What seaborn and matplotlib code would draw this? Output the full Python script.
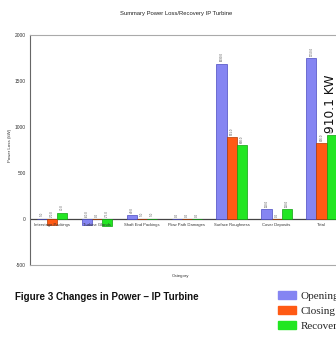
import matplotlib
matplotlib.use("Agg")
import matplotlib.pyplot as plt
import matplotlib.patches as mpatches
import seaborn as sns
import pandas as pd

categories = ["Interstage Packings", "Turbine Glands", "Shaft End Packings",
              "Flow Path Damages", "Surface Roughness", "Cover Deposits", "Total"]
opening = [5, -60, 40, 0, 1690, 110, 1750]
closing = [-70, 0, 5, 0, 891, 0, 826]
recovery = [70, -75, 5, 0, 800, 110, 910.1]
series = ["Opening", "Closing", "Recovery"]
colors = ["#8585f2", "#ff5a14", "#22e622"]
edges = ["#4a4ac0", "#b03a00", "#10a010"]
yticks = [-500, 0, 500, 1000, 1500, 2000]

rows = []
for c, o, cl, r in zip(categories, opening, closing, recovery):
    rows += [(c, "Opening", o), (c, "Closing", cl), (c, "Recovery", r)]
df = pd.DataFrame(rows, columns=["Category", "Series", "Value"])

sns.set_style("white")
plt.rcParams["font.family"] = ["Liberation Sans", "DejaVu Sans"]

fig = plt.figure(figsize=(3.36, 3.45), dpi=100)
ax = fig.add_axes([30 / 336, 0.2319, 314 / 336, 0.6667])

sns.barplot(data=df, x="Category", y="Value", hue="Series", order=categories,
            hue_order=series, palette=colors, width=0.68, gap=0,
            ax=ax, legend=False, errorbar=None, saturation=1)

for cont, ec in zip(ax.containers, edges):
    for bar in cont:
        bar.set_edgecolor(ec)
        bar.set_linewidth(0.5)
        h = bar.get_height()
        x = bar.get_x() + bar.get_width() / 2
        top = max(h, 0)
        ax.text(x, top + 25, f"{h:.1f}", rotation=90, fontsize=2.2,
                ha="center", va="bottom", color="#555555")

ax.set_xlim(-0.49, 6.5)
ax.set_ylim(-500, 2000)
ax.set_yticks(yticks)
ax.set_yticklabels([str(v) for v in yticks], fontsize=3.5, color="#333333")
ax.tick_params(axis="y", length=2, width=0.5, pad=1)
ax.set_xticks([])
ax.axhline(0, color="#444444", lw=0.9, zorder=0.5)
for s in ax.spines.values():
    s.set_color("#aaaaaa")
    s.set_linewidth(0.8)
ax.spines["left"].set_color("#666666")

for i, c in enumerate(categories):
    ax.text(i, -45, c, fontsize=3.0, ha="center", va="top", color="#333333")

ax.set_xlabel("")
ax.set_ylabel("")
fig.text(180 / 336, 1 - 276 / 345, "Category", fontsize=3.2, ha="center",
         va="center", color="#333333")
fig.text(10 / 336, 1 - 145 / 345, "Power Loss (kW)", fontsize=3.2, rotation=90,
         ha="center", va="center", color="#333333")
fig.text(176 / 336, 1 - 13 / 345, "Summary Power Loss/Recovery IP Turbine",
         fontsize=4.2, ha="center", va="center", color="#222222")

fig.text(330 / 336, 1 - 104 / 345, "910.1 KW", rotation=90, fontsize=8.8,
         ha="center", va="center", color="#111111",
         family=["DejaVu Sans"])

fig.text(15 / 336, 1 - 297 / 345, "Figure 3 Changes in Power \u2013 IP Turbine",
         fontsize=7, ha="left", va="center", color="#111111",
         weight="semibold", family=["Liberation Sans"])

handles = [mpatches.Patch(facecolor=c, edgecolor=c, label=s)
           for c, s in zip(colors, series)]
leg = fig.legend(handles=handles, loc="upper left",
                 bbox_to_anchor=(276 / 336, 1 - 289 / 345),
                 frameon=False,
                 prop={"family": ["Liberation Serif"], "size": 8},
                 handlelength=1.6, handleheight=0.75, handletextpad=0.4,
                 labelspacing=0.45, borderaxespad=0, borderpad=0.2)

fig.savefig("out.png", dpi=100)
